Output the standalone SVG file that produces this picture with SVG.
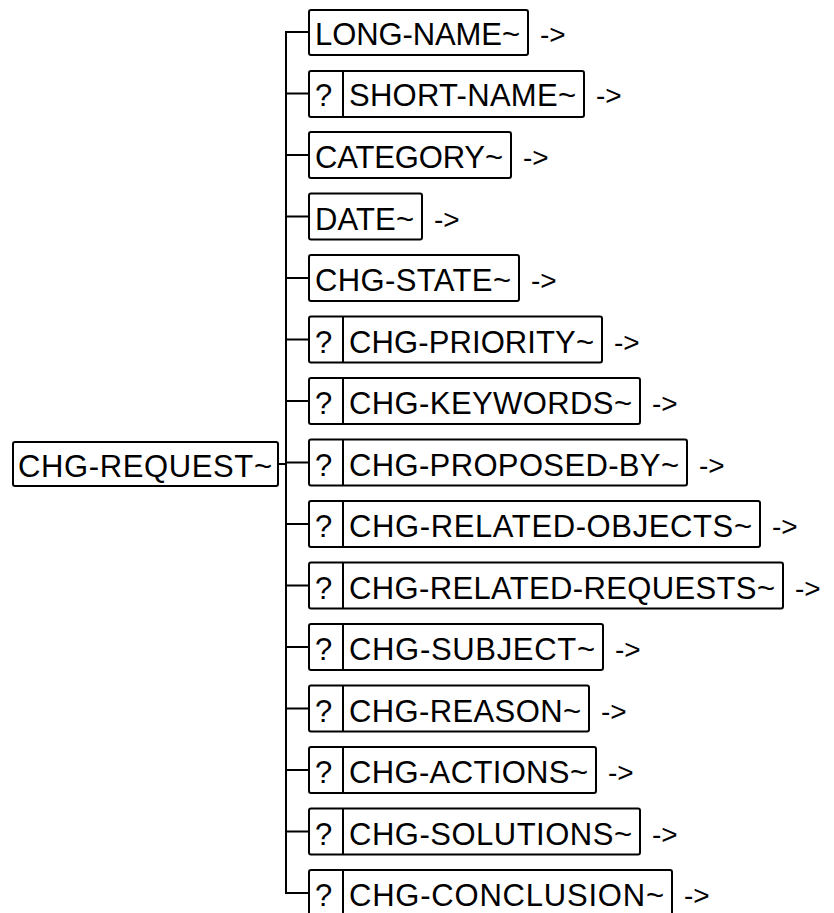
<svg xmlns="http://www.w3.org/2000/svg" width="834" height="913" viewBox="0 0 834 913">
<style>
.bx{fill:#fff;stroke:#000;stroke-width:2}
.ln{fill:none;stroke:#000;stroke-width:2}
text{font-family:"Liberation Sans",Arial,sans-serif;font-size:31px;fill:#000}
.ar{font-size:28px}
</style>
<rect x="0" y="0" width="834" height="913" fill="#fff"/>
<g id="connectors">
<path class="ln" d="M309 32 H286 V893 H309"/>
<path class="ln" d="M278 464 H286"/>
<path class="ln" d="M286 93.5 H309 M286 155 H309 M286 216.5 H309 M286 278 H309 M286 339.5 H309 M286 401 H309 M286 462.5 H309 M286 524 H309 M286 585.5 H309 M286 647 H309 M286 708.5 H309 M286 770 H309 M286 831.5 H309"/>
</g>
<g id="chg-request">
<rect class="bx" x="13" y="442" width="265" height="44" rx="2"/>
<text x="18" y="477" textLength="254" lengthAdjust="spacing">CHG-REQUEST~</text>
</g>
<g id="long-name">
<rect class="bx" x="309" y="10" width="219" height="45" rx="2"/>
<text x="315" y="45" textLength="205" lengthAdjust="spacing">LONG-NAME~</text>
<text class="ar" x="540" y="44">-&gt;</text>
</g>
<g id="short-name">
<rect class="bx" x="309" y="71" width="275" height="46" rx="2"/>
<line class="ln" x1="343" y1="71" x2="343" y2="117"/>
<text x="315" y="106">?</text>
<text x="349" y="106" textLength="227" lengthAdjust="spacing">SHORT-NAME~</text>
<text class="ar" x="596" y="105">-&gt;</text>
</g>
<g id="category">
<rect class="bx" x="309" y="132" width="202" height="46" rx="2"/>
<text x="315" y="168" textLength="188" lengthAdjust="spacing">CATEGORY~</text>
<text class="ar" x="523" y="167">-&gt;</text>
</g>
<g id="date">
<rect class="bx" x="309" y="193.5" width="113" height="46" rx="2"/>
<text x="315" y="229.5" textLength="99" lengthAdjust="spacing">DATE~</text>
<text class="ar" x="434" y="228.5">-&gt;</text>
</g>
<g id="chg-state">
<rect class="bx" x="309" y="255" width="210" height="46" rx="2"/>
<text x="315" y="291" textLength="196" lengthAdjust="spacing">CHG-STATE~</text>
<text class="ar" x="531" y="290">-&gt;</text>
</g>
<g id="chg-priority">
<rect class="bx" x="309" y="316.5" width="293" height="46" rx="2"/>
<line class="ln" x1="343" y1="316.5" x2="343" y2="362.5"/>
<text x="315" y="352.5">?</text>
<text x="349" y="352.5" textLength="245" lengthAdjust="spacing">CHG-PRIORITY~</text>
<text class="ar" x="614" y="351.5">-&gt;</text>
</g>
<g id="chg-keywords">
<rect class="bx" x="309" y="378" width="331" height="46" rx="2"/>
<line class="ln" x1="343" y1="378" x2="343" y2="424"/>
<text x="315" y="414">?</text>
<text x="349" y="414" textLength="283" lengthAdjust="spacing">CHG-KEYWORDS~</text>
<text class="ar" x="652" y="413">-&gt;</text>
</g>
<g id="chg-proposed-by">
<rect class="bx" x="309" y="439.5" width="378" height="46" rx="2"/>
<line class="ln" x1="343" y1="439.5" x2="343" y2="485.5"/>
<text x="315" y="475.5">?</text>
<text x="349" y="475.5" textLength="330" lengthAdjust="spacing">CHG-PROPOSED-BY~</text>
<text class="ar" x="699" y="474.5">-&gt;</text>
</g>
<g id="chg-related-objects">
<rect class="bx" x="309" y="501" width="451" height="46" rx="2"/>
<line class="ln" x1="343" y1="501" x2="343" y2="547"/>
<text x="315" y="537">?</text>
<text x="349" y="537" textLength="403" lengthAdjust="spacing">CHG-RELATED-OBJECTS~</text>
<text class="ar" x="772" y="536">-&gt;</text>
</g>
<g id="chg-related-requests">
<rect class="bx" x="309" y="562.5" width="474" height="46" rx="2"/>
<line class="ln" x1="343" y1="562.5" x2="343" y2="608.5"/>
<text x="315" y="598.5">?</text>
<text x="349" y="598.5" textLength="426" lengthAdjust="spacing">CHG-RELATED-REQUESTS~</text>
<text class="ar" x="795" y="597.5">-&gt;</text>
</g>
<g id="chg-subject">
<rect class="bx" x="309" y="624" width="294" height="46" rx="2"/>
<line class="ln" x1="343" y1="624" x2="343" y2="670"/>
<text x="315" y="660">?</text>
<text x="349" y="660" textLength="246" lengthAdjust="spacing">CHG-SUBJECT~</text>
<text class="ar" x="615" y="659">-&gt;</text>
</g>
<g id="chg-reason">
<rect class="bx" x="309" y="685.5" width="280" height="46" rx="2"/>
<line class="ln" x1="343" y1="685.5" x2="343" y2="731.5"/>
<text x="315" y="721.5">?</text>
<text x="349" y="721.5" textLength="232" lengthAdjust="spacing">CHG-REASON~</text>
<text class="ar" x="601" y="720.5">-&gt;</text>
</g>
<g id="chg-actions">
<rect class="bx" x="309" y="747" width="287" height="46" rx="2"/>
<line class="ln" x1="343" y1="747" x2="343" y2="793"/>
<text x="315" y="783">?</text>
<text x="349" y="783" textLength="239" lengthAdjust="spacing">CHG-ACTIONS~</text>
<text class="ar" x="608" y="782">-&gt;</text>
</g>
<g id="chg-solutions">
<rect class="bx" x="309" y="808.5" width="331" height="46" rx="2"/>
<line class="ln" x1="343" y1="808.5" x2="343" y2="854.5"/>
<text x="315" y="844.5">?</text>
<text x="349" y="844.5" textLength="283" lengthAdjust="spacing">CHG-SOLUTIONS~</text>
<text class="ar" x="652" y="843.5">-&gt;</text>
</g>
<g id="chg-conclusion">
<rect class="bx" x="309" y="870" width="363" height="46" rx="2"/>
<line class="ln" x1="343" y1="870" x2="343" y2="916"/>
<text x="315" y="906">?</text>
<text x="349" y="906" textLength="315" lengthAdjust="spacing">CHG-CONCLUSION~</text>
<text class="ar" x="684" y="905">-&gt;</text>
</g>
</svg>
